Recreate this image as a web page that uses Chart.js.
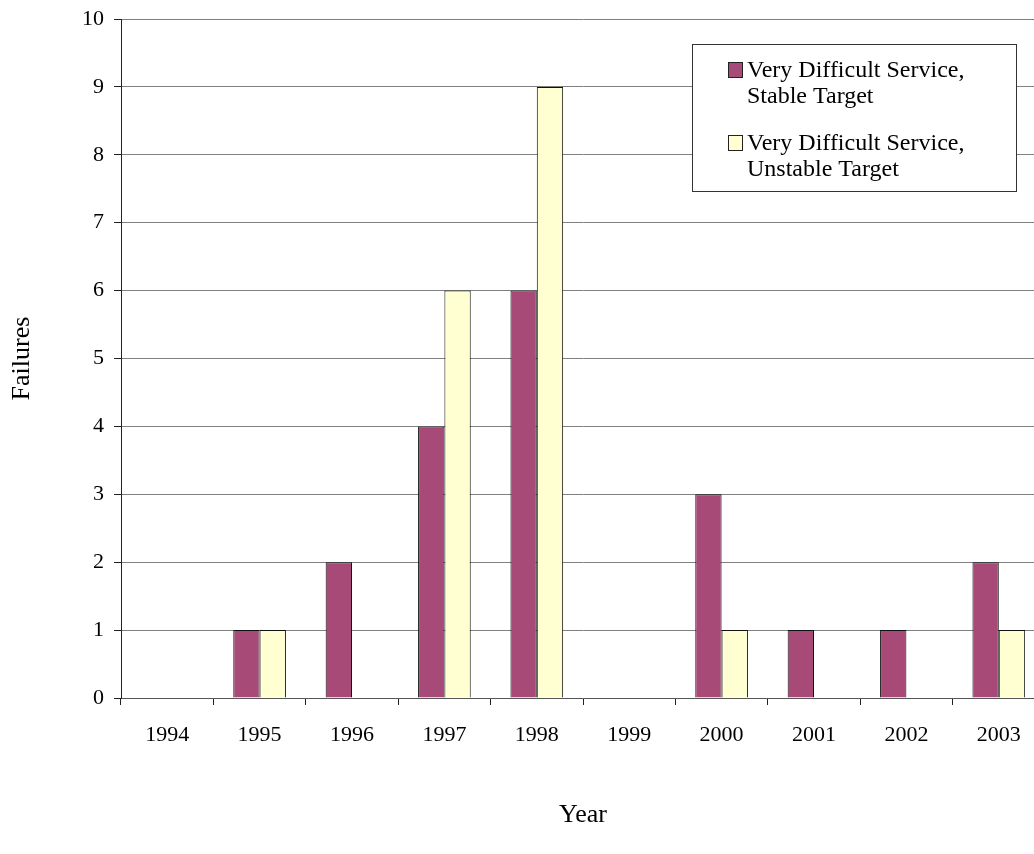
<!DOCTYPE html>
<html>
<head>
<meta charset="utf-8">
<script src="https://cdn.jsdelivr.net/npm/chart.js@4/dist/chart.umd.min.js"></script>
<style>
  html, body { margin: 0; padding: 0; background: #fff; overflow: hidden; }
  #wrap { width: 1045px; height: 854px; }
</style>
</head>
<body>
<div id="wrap"><canvas id="chart" width="1045" height="854"></canvas></div>
<script>
const years = ['1994', '1995', '1996', '1997', '1998', '1999', '2000', '2001', '2002', '2003'];
const stableTarget = [0, 1, 2, 4, 6, 0, 3, 1, 1, 2];
const unstableTarget = [0, 1, 0, 6, 9, 0, 1, 0, 0, 1];
const seriesNames = [['Very Difficult Service,', 'Stable Target'], ['Very Difficult Service,', 'Unstable Target']];

const serif = 'Liberation Serif';

// legend box drawn inside the plot area, top right
const boxLegend = {
  id: 'boxLegend',
  afterDraw(chart) {
    const ctx = chart.ctx;
    const x = 692, y = 44, w = 324, h = 147;
    ctx.save();
    ctx.fillStyle = '#fff';
    ctx.fillRect(x, y, w, h);
    ctx.strokeStyle = '#333';
    ctx.lineWidth = 1;
    ctx.strokeRect(x + 0.5, y + 0.5, w, h);
    ctx.font = '24px "' + serif + '"';
    ctx.textBaseline = 'alphabetic';
    chart.data.datasets.forEach((ds, i) => {
      const top = y + 18 + i * 73;
      ctx.fillStyle = ds.backgroundColor;
      ctx.fillRect(728, top, 14, 15);
      ctx.strokeStyle = '#222';
      ctx.strokeRect(728.5, top + 0.5, 14, 15);
      ctx.fillStyle = '#000';
      seriesNames[i].forEach((line, j) => {
        ctx.fillText(line, 747, top + 15 + j * 26);
      });
    });
    ctx.restore();
  }
};

new Chart(document.getElementById('chart'), {
  type: 'bar',
  data: {
    labels: years,
    datasets: [
      {
        label: 'Very Difficult Service, Stable Target',
        data: stableTarget,
        backgroundColor: '#a84a78',
        borderColor: '#111',
        borderWidth: 1
      },
      {
        label: 'Very Difficult Service, Unstable Target',
        data: unstableTarget,
        backgroundColor: '#ffffd2',
        borderColor: '#111',
        borderWidth: 1
      }
    ]
  },
  options: {
    responsive: false,
    animation: false,
    layout: { padding: { top: 19, right: 0, left: 0, bottom: 0 } },
    datasets: { bar: { categoryPercentage: 0.57, barPercentage: 1.0 } },
    plugins: {
      legend: { display: false },
      tooltip: { enabled: false }
    },
    scales: {
      x: {
        afterFit: scale => { scale.height = 156; },
        grid: { offset: true, drawOnChartArea: false, tickLength: 7, color: '#222' },
        border: { color: '#555' },
        ticks: { color: '#000', padding: 17, font: { family: serif, size: 22 } },
        title: {
          display: true,
          text: 'Year',
          color: '#000',
          padding: { top: 0, bottom: 23 },
          font: { family: serif, size: 26 }
        }
      },
      y: {
        min: 0,
        max: 10,
        afterFit: scale => {
          scale.width = 121;
          scale.paddingTop = 0;
          scale.paddingBottom = 0;
        },
        grid: { color: '#808080', tickLength: 7, tickColor: '#222' },
        border: { color: '#222' },
        ticks: { stepSize: 1, color: '#000', padding: 10, font: { family: serif, size: 22 } },
        title: {
          display: true,
          text: 'Failures',
          color: '#000',
          padding: { top: 7, bottom: 0 },
          font: { family: serif, size: 26 }
        }
      }
    }
  },
  plugins: [boxLegend]
});
</script>
</body>
</html>
